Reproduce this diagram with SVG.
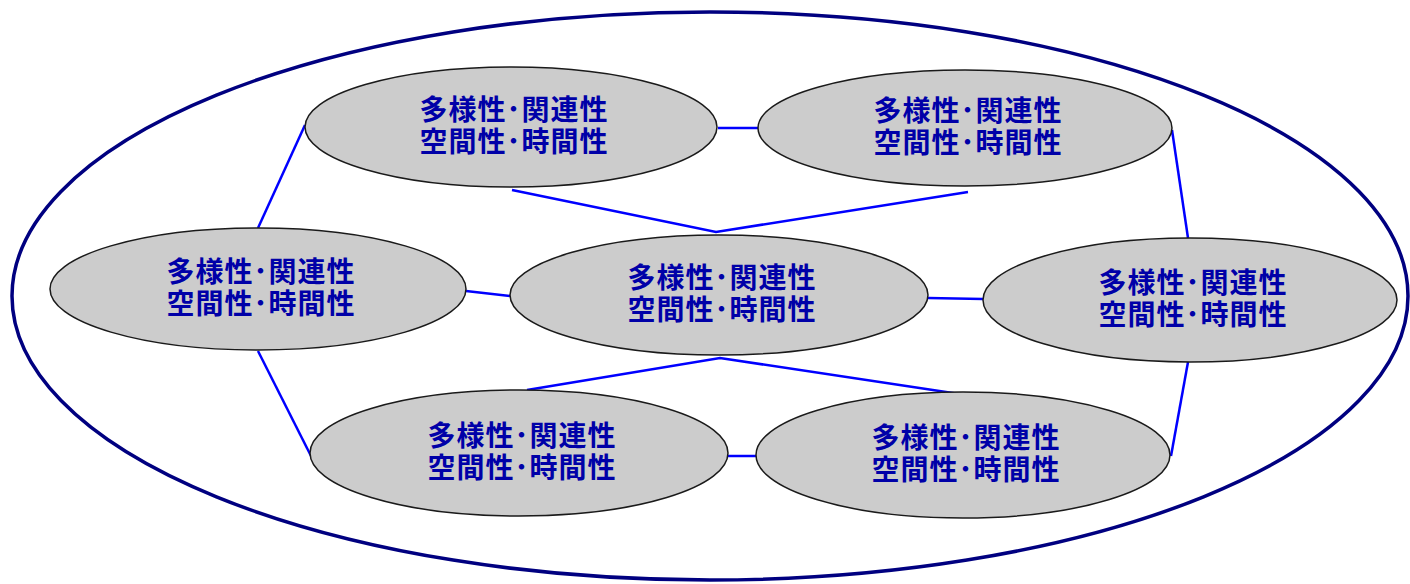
<svg xmlns="http://www.w3.org/2000/svg" width="1410" height="584" viewBox="0 0 1410 584">
<style>
.node ellipse{fill:#cccccc;stroke:#1a1a1a;stroke-width:1.5}
.node text{font-family:"Liberation Sans","Noto Sans CJK JP","Noto Sans CJK SC",sans-serif;font-size:28px;font-weight:bold;fill:#0000a8;text-anchor:middle;letter-spacing:1px}
#connectors line,#connectors polyline{stroke:#0000ff;stroke-width:2.5;fill:none}
</style>
<rect width="1410" height="584" fill="#ffffff"/>
<ellipse id="outer" cx="710" cy="296" rx="698" ry="284" fill="none" stroke="#000080" stroke-width="3.5"/>
<g id="connectors">
<line x1="718" y1="128" x2="758" y2="128"/>
<line x1="305" y1="125" x2="258" y2="228"/>
<line x1="258" y1="351" x2="311" y2="456"/>
<line x1="1172" y1="130" x2="1188" y2="238"/>
<line x1="1188" y1="362" x2="1171" y2="456"/>
<line x1="466" y1="291" x2="510" y2="296"/>
<line x1="928" y1="298" x2="983" y2="299"/>
<line x1="728" y1="456" x2="756" y2="456"/>
<polyline points="512,190 716,232 968,192"/>
<polyline points="527,390 720,358 966,395"/>
</g>
<g id="n1" class="node"><ellipse cx="511" cy="127" rx="206" ry="60"/><text x="514" y="120">多様性･関連性</text><text x="514" y="152">空間性･時間性</text></g>
<g id="n2" class="node"><ellipse cx="965" cy="128" rx="207" ry="58"/><text x="968" y="121">多様性･関連性</text><text x="968" y="153">空間性･時間性</text></g>
<g id="n3" class="node"><ellipse cx="258" cy="289" rx="208" ry="61"/><text x="261" y="282">多様性･関連性</text><text x="261" y="314">空間性･時間性</text></g>
<g id="n4" class="node"><ellipse cx="719" cy="295" rx="209" ry="60"/><text x="722" y="288">多様性･関連性</text><text x="722" y="320">空間性･時間性</text></g>
<g id="n5" class="node"><ellipse cx="1190" cy="300" rx="207" ry="62"/><text x="1193" y="293">多様性･関連性</text><text x="1193" y="325">空間性･時間性</text></g>
<g id="n6" class="node"><ellipse cx="519" cy="453" rx="209" ry="63"/><text x="522" y="446">多様性･関連性</text><text x="522" y="478">空間性･時間性</text></g>
<g id="n7" class="node"><ellipse cx="963" cy="455" rx="207" ry="63"/><text x="966" y="448">多様性･関連性</text><text x="966" y="480">空間性･時間性</text></g>
</svg>
